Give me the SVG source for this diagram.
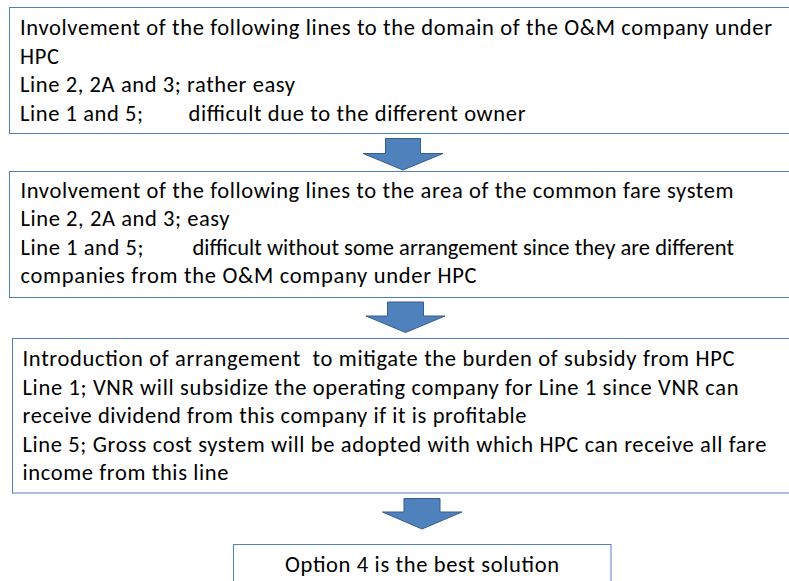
<svg xmlns="http://www.w3.org/2000/svg" width="789" height="581" viewBox="0 0 789 581">
  <style>
    .box { fill: #ffffff; stroke: #4f81bd; stroke-width: 1; }
    .arrow { fill: #4f81bd; stroke: #385d8a; stroke-width: 1; stroke-linejoin: miter; }
    text { font-family: Carlito, Lato, "Liberation Sans", sans-serif; font-size: 22.5px; fill: #000000; }
  </style>
  <rect width="789" height="581" fill="#ffffff"/>

  <!-- Step 1: O&M company domain -->
  <g id="step-domain">
    <rect class="box" x="9.5" y="7.5" width="800" height="126"/>
    <text x="20" y="35" textLength="752" lengthAdjust="spacing">Involvement of the following lines to the domain of the O&amp;M company under</text>
    <text x="20" y="63.5" textLength="39" lengthAdjust="spacing">HPC</text>
    <text x="20" y="92" textLength="275" lengthAdjust="spacing">Line 2, 2A and 3; rather easy</text>
    <text x="20" y="120.5" textLength="123" lengthAdjust="spacing">Line 1 and 5;</text>
    <text x="188.5" y="120.5" textLength="337" lengthAdjust="spacing">difficult due to the different owner</text>
  </g>

  <!-- Step 2: common fare system -->
  <g id="step-fare">
    <rect class="box" x="9.5" y="171.5" width="800" height="126"/>
    <text x="20.5" y="197.5" textLength="713" lengthAdjust="spacing">Involvement of the following lines to the area of the common fare system</text>
    <text x="20.5" y="226" textLength="209" lengthAdjust="spacing">Line 2, 2A and 3; easy</text>
    <text x="20.5" y="254.5" textLength="123" lengthAdjust="spacing">Line 1 and 5;</text>
    <text x="192.5" y="254.5" textLength="541.5" lengthAdjust="spacing">difficult without some arrangement since they are different</text>
    <text x="20.5" y="283" textLength="456" lengthAdjust="spacing">companies from the O&amp;M company under HPC</text>
  </g>

  <!-- Step 3: subsidy arrangement -->
  <g id="step-subsidy">
    <rect class="box" x="12.5" y="338.5" width="800" height="154.5"/>
    <text x="22.5" y="366" textLength="712" lengthAdjust="spacing" xml:space="preserve">Introduction of arrangement  to mitigate the burden of subsidy from HPC</text>
    <text x="22.5" y="394.5" textLength="716" lengthAdjust="spacing">Line 1; VNR will subsidize the operating company for Line 1 since VNR can</text>
    <text x="22.5" y="423" textLength="504" lengthAdjust="spacing">receive dividend from this company if it is profitable</text>
    <text x="22.5" y="451.5" textLength="744" lengthAdjust="spacing">Line 5; Gross cost system will be adopted with which HPC can receive all fare</text>
    <text x="22.5" y="480" textLength="206" lengthAdjust="spacing">income from this line</text>
  </g>

  <!-- Conclusion -->
  <g id="step-conclusion">
    <rect class="box" x="233.5" y="544.5" width="377.5" height="60"/>
    <text x="422" y="572" text-anchor="middle" textLength="274" lengthAdjust="spacing">Option 4 is the best solution</text>
  </g>

  <!-- Block arrows between steps -->
  <g id="connectors">
    <path class="arrow" d="M385.5,138.5 H420.5 V153.5 H443 L403,170 L363,153.5 H385.5 Z"/>
    <path class="arrow" d="M387.5,302 H423.5 V316 H445 L405.5,332.5 L366,316 H387.5 Z"/>
    <path class="arrow" d="M404,498.5 H440 V512 H462 L422,529 L382.5,512 H404 Z"/>
  </g>
</svg>
